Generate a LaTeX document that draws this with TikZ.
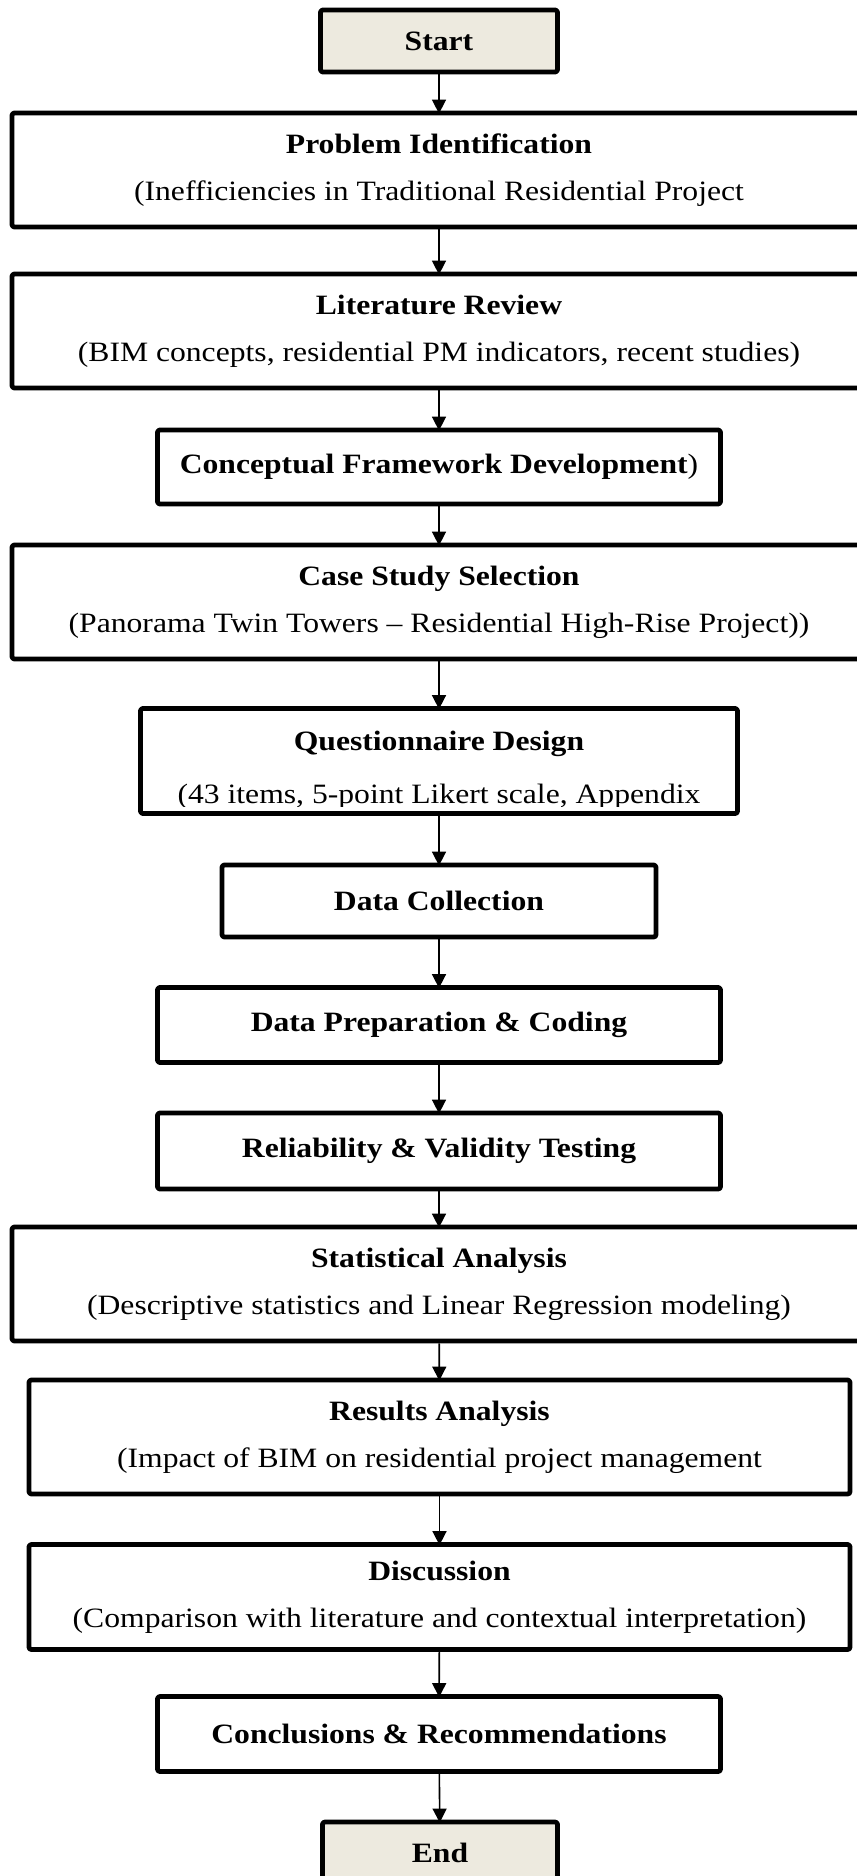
\documentclass[tikz,border=0pt]{standalone}
\usepackage{fontspec}
\setmainfont{Liberation Serif}[FakeStretch=1.13]
\usetikzlibrary{arrows.meta}
\definecolor{termfill}{RGB}{237,234,223}
\begin{document}
\begin{tikzpicture}[x=0.5pt,y=-0.5pt,>={Triangle[length=7pt,width=7pt]},line join=round,
	every node/.style={font=\fontsize{14}{23.5}\selectfont},
	box/.style={draw=black,line width=2.4pt,rounded corners=1.2pt,fill=white,align=center,inner sep=0pt},
	termbox/.style={box,fill=termfill},
	widebox/.style={box,minimum width=427pt,minimum height=57pt},
	midbox/.style={box,minimum width=281.5pt,minimum height=37.5pt},
	flow/.style={->,line width=0.8pt,shorten >=-1.5pt}]
	\useasboundingbox (0,0) rectangle (857,1876);
	\node[termbox,minimum width=118.5pt,minimum height=31pt] (start) at (439,41) {\textbf{Start}};
	\node[widebox] (prob) at (439,170) {\textbf{Problem Identification}\\(Inefficiencies in Traditional Residential Project};
	\node[widebox] (lit) at (439,331) {\textbf{Literature Review}\\(BIM concepts, residential PM indicators, recent studies)};
	\node[midbox,minimum height=37pt] (concept) at (439,467) {\textbf{Conceptual Framework Development})};
	\node[widebox] (case) at (439,602) {\textbf{Case Study Selection}\\(Panorama Twin Towers -- Residential High-Rise Project))};
	% text of this box runs into its lower edge
	\node[box,minimum width=298.5pt,minimum height=52.5pt] (quest) at (439,761) {};
	\node (questtitle) at (439,744) {\textbf{Questionnaire Design}};
	\begin{scope}
		\clip ([shift={(1.2pt,-1.2pt)}]quest.north west) rectangle ([yshift=4.5pt]quest.south east);
		\node[anchor=base] (questsub) at (439,803) {(43 items, 5-point Likert scale, Appendix};
	\end{scope}
	\node[box,minimum width=217pt,minimum height=36pt] (collect) at (439,901) {\textbf{Data Collection}};
	\node[midbox] (prep) at (439,1025) {\textbf{Data Preparation \& Coding}};
	\node[midbox,minimum height=38pt] (test) at (439,1151) {\textbf{Reliability \& Validity Testing}};
	\node[widebox] (stat) at (439,1284) {\textbf{Statistical Analysis}\\(Descriptive statistics and Linear Regression modeling)};
	\node[box,minimum width=410.5pt,minimum height=57pt] (results) at (439.5,1437) {\textbf{Results Analysis}\\(Impact of BIM on residential project management};
	\node[box,minimum width=410.5pt,minimum height=52.5pt] (disc) at (439.5,1597) {\textbf{Discussion}\\(Comparison with literature and contextual interpretation)};
	\node[midbox] (concl) at (439,1734) {\textbf{Conclusions \& Recommendations}};
	\node[termbox,minimum width=117.5pt,minimum height=31pt] (finish) at (440,1853) {\textbf{End}};
	\foreach \a/\b in {start/prob,prob/lit,lit/concept,concept/case,case/quest,quest/collect,collect/prep,prep/test,test/stat,stat/results,results/disc,disc/concl,concl/finish}{
		\draw[flow] (\a) -- (\b);
	}
\end{tikzpicture}
\end{document}
